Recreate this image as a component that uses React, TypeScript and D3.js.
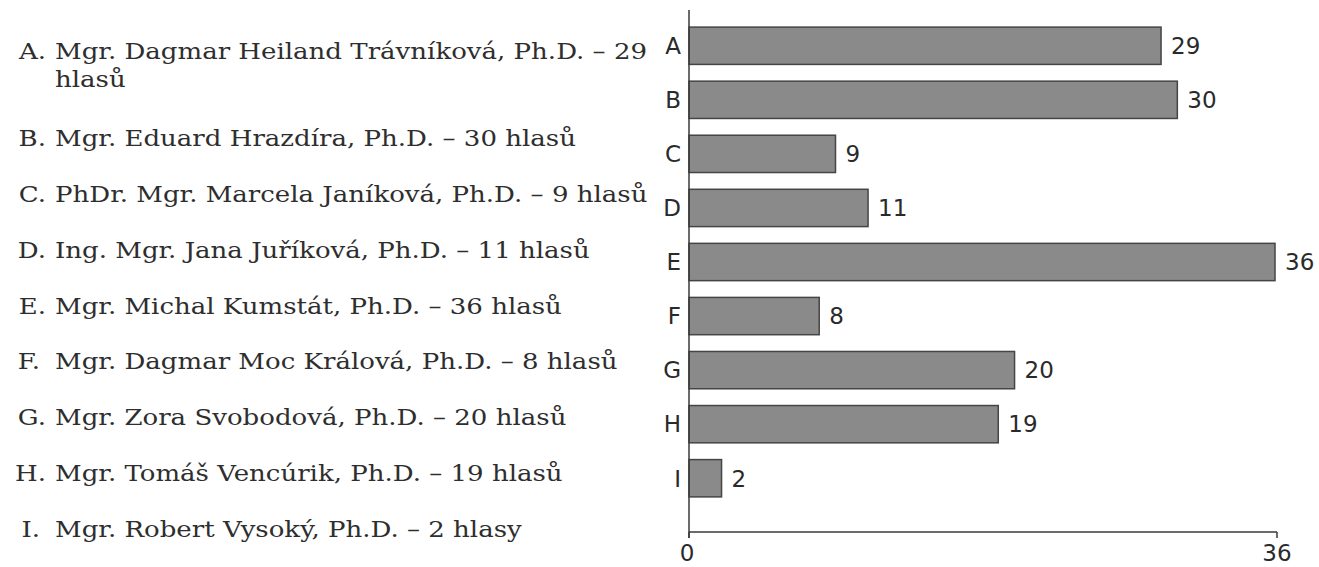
import * as d3 from "d3";
import { useRef, useEffect } from "react";

const letters = ["A", "B", "C", "D", "E", "F", "G", "H", "I"];
const votes = [29, 30, 9, 11, 36, 8, 20, 19, 2];
const names = [
  ["Mgr. Dagmar Heiland Trávníková, Ph.D. – 29", "hlasů"],
  ["Mgr. Eduard Hrazdíra, Ph.D. – 30 hlasů"],
  ["PhDr. Mgr. Marcela Janíková, Ph.D. – 9 hlasů"],
  ["Ing. Mgr. Jana Juříková, Ph.D. – 11 hlasů"],
  ["Mgr. Michal Kumstát, Ph.D. – 36 hlasů"],
  ["Mgr. Dagmar Moc Králová, Ph.D. – 8 hlasů"],
  ["Mgr. Zora Svobodová, Ph.D. – 20 hlasů"],
  ["Mgr. Tomáš Vencúrik, Ph.D. – 19 hlasů"],
  ["Mgr. Robert Vysoký, Ph.D. – 2 hlasy"],
];
const xTicks = [0, 36];

export default function App() {
  const svgRef = useRef(null);

  useEffect(() => {
    const svg = d3.select(svgRef.current);
    svg.selectAll("*").remove();

    const x = d3.scaleLinear().domain([0, 36]).range([689, 1275]);
    const y = d3.scaleBand().domain(letters).range([19, 505]).paddingInner(0.31).paddingOuter(0.15);

    // left list (serif, stretched a bit to match the wider original face)
    const list = svg.append("g")
      .attr("font-family", "'DejaVu Serif', 'Liberation Serif', serif")
      .attr("font-size", 22)
      .attr("fill", "#2e2e2e");
    const rowY = d3.scaleLinear().domain([1, 8]).range([146, 537]);
    const lineNodes = [];
    names.forEach((lines, i) => {
      const by = i === 0 ? 59 : rowY(i);
      lineNodes.push(list.append("text")
        .attr("x", i === 5 || i === 8 ? 40 : 46).attr("y", by)
        .attr("text-anchor", "end")
        .text(letters[i] + ".").node());
      lines.forEach((ln, j) => {
        lineNodes.push(list.append("text")
          .attr("x", 55).attr("y", by + j * 28)
          .text(ln).node());
      });
    });
    const ref = lineNodes[1].getComputedTextLength();
    const k = ref > 0 ? 592 / ref : 1;
    lineNodes.forEach((n) => {
      const w = n.getComputedTextLength();
      if (w > 0) {
        n.setAttribute("textLength", String(w * k));
        n.setAttribute("lengthAdjust", "spacingAndGlyphs");
      }
    });

    // bars
    svg.append("g").selectAll("rect")
      .data(votes)
      .enter()
      .append("rect")
      .attr("x", x(0))
      .attr("y", (d, i) => y(letters[i]))
      .attr("width", (d) => x(d) - x(0))
      .attr("height", y.bandwidth())
      .attr("fill", "#8a8a8a")
      .attr("stroke", "#454545")
      .attr("stroke-width", 1.5);

    const sans = "'DejaVu Sans', sans-serif";

    svg.append("g").selectAll("text")
      .data(votes)
      .enter()
      .append("text")
      .attr("x", (d) => x(d) + 10)
      .attr("y", (d, i) => y(letters[i]) + y.bandwidth() / 2)
      .attr("dy", "0.36em")
      .attr("font-family", sans)
      .attr("font-size", 23)
      .attr("fill", "#2a2a2a")
      .text((d) => d);

    // category labels
    svg.append("g").selectAll("text")
      .data(letters)
      .enter()
      .append("text")
      .attr("x", 681)
      .attr("y", (d) => y(d) + y.bandwidth() / 2)
      .attr("dy", "0.36em")
      .attr("text-anchor", "end")
      .attr("font-family", sans)
      .attr("font-size", 23)
      .attr("fill", "#2a2a2a")
      .text((d) => d);

    // axes
    const axisColor = "#3a3a3a";
    svg.append("line")
      .attr("x1", x(0)).attr("x2", x(0))
      .attr("y1", 10).attr("y2", 538)
      .attr("stroke", axisColor).attr("stroke-width", 1.5);
    svg.append("line")
      .attr("x1", x(0)).attr("x2", x(36) + 2)
      .attr("y1", 532).attr("y2", 532)
      .attr("stroke", axisColor).attr("stroke-width", 1.5);

    const ticks = svg.append("g");
    ticks.selectAll("line")
      .data(xTicks)
      .enter()
      .append("line")
      .attr("x1", (d) => x(d) + (d ? 2 : 0)).attr("x2", (d) => x(d) + (d ? 2 : 0))
      .attr("y1", 532).attr("y2", 538)
      .attr("stroke", axisColor).attr("stroke-width", 1.5);
    ticks.selectAll("text")
      .data(xTicks)
      .enter()
      .append("text")
      .attr("x", (d) => x(d) + (d ? 2 : -2))
      .attr("y", 561)
      .attr("text-anchor", "middle")
      .attr("font-family", sans)
      .attr("font-size", 23)
      .attr("fill", "#2a2a2a")
      .text((d) => d);
  }, []);

  return (
    <svg
      ref={svgRef}
      width={1319}
      height={567}
      style={{ position: "absolute", left: 0, top: 0, background: "#fff" }}
    />
  );
}
